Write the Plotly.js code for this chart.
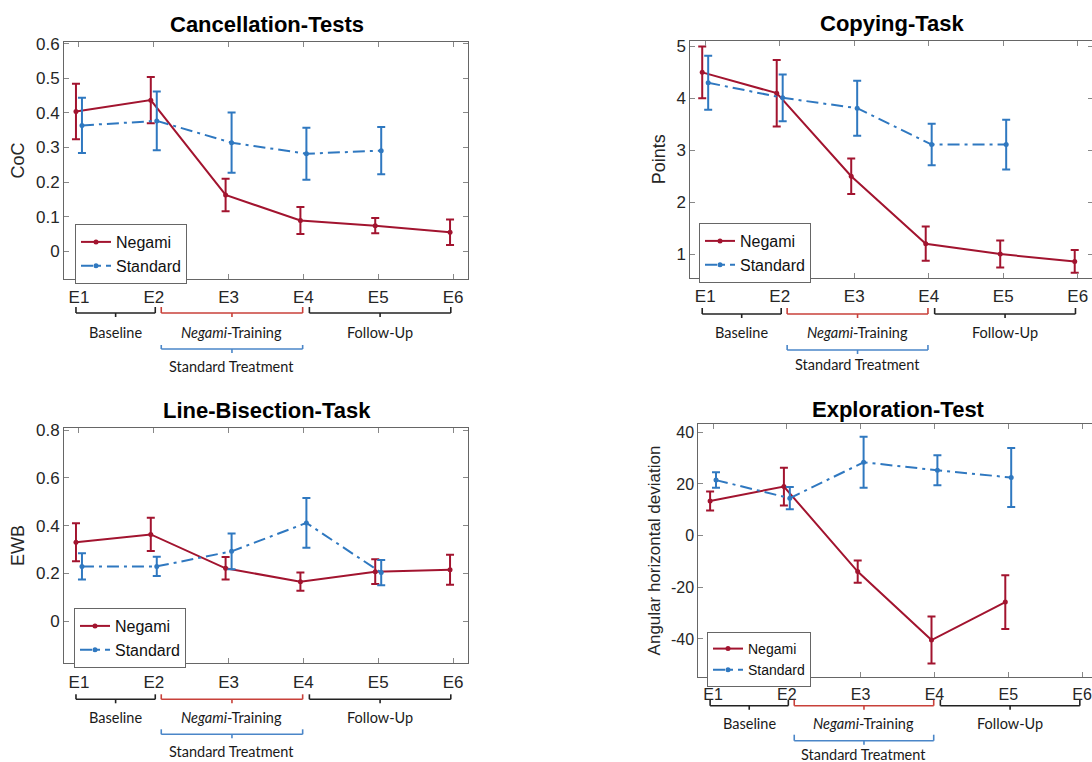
<!DOCTYPE html>
<html>
<head>
<meta charset="utf-8">
<script src="https://cdn.plot.ly/plotly-3.0.1.min.js"></script>
<style>
html, body { margin: 0; padding: 0; overflow: hidden; background: #fff; }
#chart { width: 1100px; height: 762px; }
</style>
</head>
<body>
<div id="chart"></div>
<script>
// ---------- data ----------
const xLabels = ['E1', 'E2', 'E3', 'E4', 'E5', 'E6'];
const seriesNames = ['Negami', 'Standard'];

const cancelNegami = [0.404, 0.437, 0.163, 0.089, 0.074, 0.055];
const cancelNegamiErr = [0.080, 0.067, 0.047, 0.039, 0.022, 0.037];
const cancelStandard = [0.364, 0.377, 0.314, 0.282, 0.291];
const cancelStandardErr = [0.080, 0.085, 0.087, 0.075, 0.068];

const copyNegami = [4.50, 4.10, 2.50, 1.20, 1.00, 0.86];
const copyNegamiErr = [0.50, 0.64, 0.34, 0.33, 0.26, 0.22];
const copyStandard = [4.30, 4.01, 3.81, 3.11, 3.11];
const copyStandardErr = [0.52, 0.45, 0.53, 0.40, 0.48];

const lineNegami = [0.330, 0.363, 0.221, 0.165, 0.207, 0.215];
const lineNegamiErr = [0.080, 0.070, 0.047, 0.038, 0.052, 0.063];
const lineStandard = [0.229, 0.229, 0.292, 0.411, 0.203];
const lineStandardErr = [0.055, 0.040, 0.075, 0.104, 0.053];

const explNegami = [13.4, 19.0, -13.9, -40.4, -25.7];
const explNegamiErr = [3.7, 7.3, 4.3, 9.1, 10.4];
const explStandard = [21.5, 14.5, 28.4, 25.3, 22.5];
const explStandardErr = [3.0, 4.3, 9.9, 5.8, 11.4];

const panelTitles = ['Cancellation-Tests', 'Copying-Task', 'Line-Bisection-Task', 'Exploration-Test'];
const yTitles = ['CoC', 'Points', 'EWB', 'Angular horizontal deviation'];
const yTickVals = [
  [0, 0.1, 0.2, 0.3, 0.4, 0.5, 0.6],
  [1, 2, 3, 4, 5],
  [0, 0.2, 0.4, 0.6, 0.8],
  [-40, -20, 0, 20, 40]
];
const yTickText = [
  ['0', '0.1', '0.2', '0.3', '0.4', '0.5', '0.6'],
  ['1', '2', '3', '4', '5'],
  ['0', '0.2', '0.4', '0.6', '0.8'],
  ['-40', '-20', '0', '20', '40']
];

const phaseNames = ['Baseline', '<i>Negami</i>-Training', 'Follow-Up', 'Standard Treatment'];
const phaseStart = [0.96, 2.10, 4.08, 2.10];
const phaseEnd = [2.02, 3.99, 5.97, 3.99];
const phaseRow = [0, 0, 0, 1];

// ---------- styling / layout helpers ----------
const W = 1100, H = 762;
const RED = '#A2142F', BLUE = '#2F78C0';
const phaseColors = ['#222222', '#C8413A', '#222222', '#4A86C8'];
const FONT = 'Liberation Sans, Arial, sans-serif';

const panels = [
  { neg: cancelNegami, negErr: cancelNegamiErr, std: cancelStandard, stdErr: cancelStandardErr,
    px: [64, 468], py: [42, 279], yr: [-0.08, 0.605],
    title: [267, 25], legend: [75, 224], lfont: 16, ytf: 17, ytl: 18,
    off: [28, 34, 38, 53, 66, 70, 74, 87] },
  { neg: copyNegami, negErr: copyNegamiErr, std: copyStandard, stdErr: copyStandardErr,
    px: [690.3, 1092.6], py: [40.7, 278], yr: [0.54, 5.11],
    title: [892, 24], legend: [699, 223], lfont: 16, ytf: 17, ytl: 18,
    off: [30, 36, 40, 55, 67, 72, 76, 87] },
  { neg: lineNegami, negErr: lineNegamiErr, std: lineStandard, stdErr: lineStandardErr,
    px: [64, 468], py: [427.7, 663.3], yr: [-0.177, 0.81],
    title: [267, 410], legend: [74, 608], lfont: 16, ytf: 17, ytl: 18,
    off: [31, 36, 40, 54, 66, 71, 75, 88] },
  { neg: explNegami, negErr: explNegamiErr, std: explStandard, stdErr: explStandardErr,
    px: [698.3, 1096.8], py: [424.3, 676.7], yr: [-54.6, 43.1],
    title: [898, 409], legend: [707, 632], lfont: 14, ytf: 16, ytl: 17,
    off: [23, 29, 33, 47, 58, 64, 68, 78] }
];

const traces = [];
const layout = {
  width: W, height: H,
  margin: { l: 0, r: 0, t: 0, b: 0 },
  paper_bgcolor: '#ffffff', plot_bgcolor: '#ffffff',
  font: { family: FONT, color: '#262626' },
  showlegend: true,
  shapes: [], annotations: []
};

panels.forEach((p, i) => {
  const n = i + 1;
  const xa = n === 1 ? 'x' : 'x' + n;
  const ya = n === 1 ? 'y' : 'y' + n;
  const lg = n === 1 ? 'legend' : 'legend' + n;
  const negX = p.neg.map((v, k) => k + 1 - 0.04);
  const stdX = p.std.map((v, k) => k + 1 + 0.04);

  traces.push({
    type: 'scatter', mode: 'lines+markers', name: seriesNames[0],
    x: negX, y: p.neg, xaxis: xa, yaxis: ya, legend: lg,
    line: { color: RED, width: 2 }, marker: { color: RED, size: 5 },
    error_y: { type: 'data', array: p.negErr, visible: true, color: RED, thickness: 2, width: 4 }
  });
  traces.push({
    type: 'scatter', mode: 'lines+markers', name: seriesNames[1],
    x: stdX, y: p.std, xaxis: xa, yaxis: ya, legend: lg,
    line: { color: BLUE, width: 2, dash: '12px,5px,3px,5px' }, marker: { color: BLUE, size: 5 },
    error_y: { type: 'data', array: p.stdErr, visible: true, color: BLUE, thickness: 2, width: 4 }
  });

  const xKey = n === 1 ? 'xaxis' : 'xaxis' + n;
  const yKey = n === 1 ? 'yaxis' : 'yaxis' + n;
  layout[xKey] = {
    domain: [p.px[0] / W, p.px[1] / W], anchor: ya,
    range: [0.8, 6.2], tickvals: [1, 2, 3, 4, 5, 6], ticktext: xLabels,
    showgrid: false, zeroline: false, showline: true, mirror: 'ticks',
    linecolor: '#666666', linewidth: 1, ticks: 'inside', ticklen: 5, tickcolor: '#888888',
    tickfont: { size: p.ytf, family: FONT, color: '#262626' }, ticklabelstandoff: 3
  };
  layout[yKey] = {
    domain: [1 - p.py[1] / H, 1 - p.py[0] / H], anchor: xa,
    range: p.yr, tickvals: yTickVals[i], ticktext: yTickText[i],
    showgrid: false, zeroline: false, showline: true, mirror: 'ticks',
    linecolor: '#666666', linewidth: 1, ticks: 'inside', ticklen: 5, tickcolor: '#888888',
    tickfont: { size: p.ytf, family: FONT, color: '#262626' },
    title: { text: yTitles[i], font: { size: p.ytl, family: FONT, color: '#262626' }, standoff: 6 }
  };
  layout[lg] = {
    x: p.legend[0] / W, y: 1 - p.legend[1] / H, xanchor: 'left', yanchor: 'top',
    bgcolor: '#ffffff', bordercolor: '#666666', borderwidth: 1,
    font: { size: p.lfont, family: FONT, color: '#111111' },
    tracegroupgap: 0, itemwidth: 30
  };

  layout.annotations.push({
    xref: 'paper', yref: 'paper', x: p.title[0] / W, y: 1 - p.title[1] / H,
    xanchor: 'center', yanchor: 'middle', showarrow: false,
    text: '<b>' + panelTitles[i] + '</b>', font: { size: 22, family: FONT, color: '#000000' }
  });

  // phase brackets below the axis
  const h = p.py[1] - p.py[0];
  const yref = ya + ' domain';
  phaseNames.forEach((name, k) => {
    const o = phaseRow[k] === 0 ? p.off.slice(0, 4) : p.off.slice(4, 8);
    const yTop = -o[0] / h, yMid = -o[1] / h, yTick = -o[2] / h, yLab = -o[3] / h;
    const a = phaseStart[k], b = phaseEnd[k], m = (a + b) / 2;
    const ln = { color: phaseColors[k], width: 1.6 };
    layout.shapes.push(
      { type: 'line', xref: xa, yref: yref, x0: a, x1: a, y0: yTop, y1: yMid, line: ln },
      { type: 'line', xref: xa, yref: yref, x0: a, x1: b, y0: yMid, y1: yMid, line: ln },
      { type: 'line', xref: xa, yref: yref, x0: b, x1: b, y0: yTop, y1: yMid, line: ln },
      { type: 'line', xref: xa, yref: yref, x0: m, x1: m, y0: yMid, y1: yTick, line: ln }
    );
    layout.annotations.push({
      xref: xa, yref: yref, x: m, y: yLab, xanchor: 'center', yanchor: 'middle',
      showarrow: false, text: name,
      font: { size: 14.5, family: 'Lato, Open Sans, sans-serif', color: '#1a1a1a' }
    });
  });
});

Plotly.newPlot('chart', traces, layout, { displayModeBar: false, staticPlot: true });
</script>
</body>
</html>
